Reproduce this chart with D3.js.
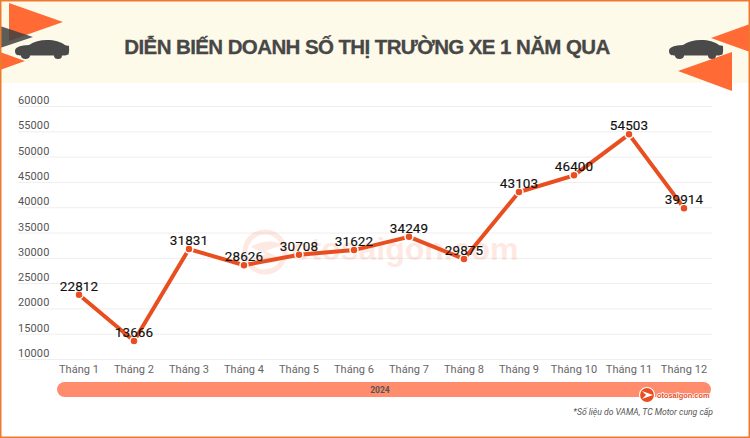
<!DOCTYPE html>
<html>
<head>
<meta charset="utf-8">
<script src="https://cdn.jsdelivr.net/npm/d3@7"></script>
<style>
html, body { margin: 0; padding: 0; background: #fff; }
svg { display: block; }
</style>
</head>
<body>
<div id="chart"></div>
<script>
const width = 750;
const height = 438;

const months = ["Tháng 1", "Tháng 2", "Tháng 3", "Tháng 4", "Tháng 5", "Tháng 6",
  "Tháng 7", "Tháng 8", "Tháng 9", "Tháng 10", "Tháng 11", "Tháng 12"];
const sales = [22812, 13666, 31831, 28626, 30708, 31622, 34249, 29875, 43103, 46400, 54503, 39914];
const yTicks = [10000, 15000, 20000, 25000, 30000, 35000, 40000, 45000, 50000, 55000, 60000];

const title = "DIỄN BIẾN DOANH SỐ THỊ TRƯỜNG XE 1 NĂM QUA";
const yearLabel = "2024";
const note = "*Số liệu do VAMA, TC Motor cung cấp";

const svg = d3.select("#chart").append("svg")
  .attr("width", width)
  .attr("height", height)
  .style("font-family", "Roboto, sans-serif");

// bandeau du titre
svg.append("rect").attr("x", 0).attr("y", 0).attr("width", width).attr("height", 83).attr("fill", "#fefae9");

const x = d3.scalePoint().domain(months).range([79, 684]);
const y = d3.scaleLinear().domain([10000, 60000]).range([359.5, 106.5]);

// triangles décoratifs
const tri = (pts, fill, op) => svg.append("polygon").attr("points", pts).attr("fill", fill).attr("opacity", op || 1);
tri("9,3 63,22 9,41", "#ff6a35");
tri("0,26 33,37 0,48", "#3f3f3f", 0.85);
tri("0,52 25,61 0,70", "#ff6a35");
tri("750,24 711,38 750,52", "#ff6a35");
tri("732,52 678,71 732,91", "#ff6a35");

// voiture
function car(tx, ty) {
  svg.append("path")
    .attr("transform", `translate(${tx},${ty})`)
    .attr("fill", "#4a4a4a")
    .attr("d", "M0,11 C0,8 3,6.5 8,5.5 L14,5 C19,1.5 25,0 32,0 C40,0 45,1.5 50,5 C48,5 53,5.5 54,6 C54,8 54.5,11 53.5,14.5 C51,15.5 49,15.5 47,15.5 A4,3.5 0 0 1 39,15.5 L15,15.5 A4.5,3.5 0 0 1 6,15.5 C3,15.5 0,15 0,11 Z");
}
car(15, 40);
car(669, 40);

// titre
svg.append("text")
  .attr("x", 367).attr("y", 53.5)
  .attr("text-anchor", "middle")
  .attr("font-family", "Liberation Sans, Arial, sans-serif")
  .attr("font-size", 20.5)
  .attr("font-weight", 700)
  .attr("letter-spacing", -0.6)
  .attr("fill", "#474747")
  .attr("stroke", "#474747").attr("stroke-width", 0.3)
  .text(title);

// grille + axe y
svg.append("g").selectAll("line").data(yTicks).join("line")
  .attr("x1", 18).attr("x2", 712)
  .attr("y1", d => y(d)).attr("y2", d => y(d))
  .attr("stroke", "#eeeeee").attr("stroke-width", 1);

svg.append("g").selectAll("text").data(yTicks).join("text")
  .attr("x", 18).attr("y", d => y(d) - 2.5)
  .attr("font-size", 11).attr("letter-spacing", 0.1).attr("fill", "#555")
  .text(d => d);

// filigrane
const wm = svg.append("g").attr("opacity", 0.13);
wm.append("circle").attr("cx", 265).attr("cy", 252).attr("r", 20).attr("fill", "none").attr("stroke", "#f0592a").attr("stroke-width", 5);
wm.append("path").attr("d", "M251,247 C262,240 275,240 283,245 L265,251 L282,259 C273,265 260,264 251,259 L266,254 Z").attr("fill", "#f0592a");
wm.append("text").attr("x", 291).attr("y", 260).attr("font-size", 32).attr("font-weight", 700)
  .attr("font-family", "Liberation Sans, Arial, sans-serif").attr("fill", "#f0592a").text("otosaigon.com");

// axe x
svg.append("g").selectAll("text").data(months).join("text")
  .attr("x", d => x(d)).attr("y", 373)
  .attr("text-anchor", "middle")
  .attr("font-size", 11).attr("letter-spacing", 0.05).attr("fill", "#666")
  .text(d => d);

// barre année
svg.append("rect").attr("x", 57).attr("y", 382).attr("width", 654).attr("height", 15).attr("rx", 7.5).attr("fill", "#ff8c6c");
svg.append("text").attr("x", 380).attr("y", 392.5).attr("text-anchor", "middle")
  .attr("font-size", 8.5).attr("font-weight", 700).attr("fill", "#555").text(yearLabel);

// courbe
const line = d3.line().x((d, i) => x(months[i])).y(d => y(d));
svg.append("path").datum(sales)
  .attr("d", line)
  .attr("fill", "none").attr("stroke", "#e84e1f").attr("stroke-width", 4);

svg.append("g").selectAll("circle").data(sales).join("circle")
  .attr("cx", (d, i) => x(months[i])).attr("cy", d => y(d))
  .attr("r", 4)
  .attr("fill", "#e84e1f").attr("stroke", "#fff").attr("stroke-width", 1.5);

svg.append("g").selectAll("text").data(sales).join("text")
  .attr("x", (d, i) => x(months[i])).attr("y", d => y(d) - 4)
  .attr("text-anchor", "middle")
  .attr("font-size", 13.5).attr("letter-spacing", 0.1).attr("fill", "#111")
  .attr("stroke", "#111").attr("stroke-width", 0.15)
  .text(d => d);

// logo
const logo = svg.append("g");
logo.append("circle").attr("cx", 647).attr("cy", 395).attr("r", 7.5).attr("fill", "#e84e1f").attr("stroke", "#fff").attr("stroke-width", 1.2);
logo.append("path").attr("d", "M642,391 L653,395 L642,399 L646,395 Z").attr("fill", "#fff");
logo.append("text").attr("x", 657).attr("y", 398).attr("font-size", 7.4).attr("font-weight", 700)
  .attr("font-family", "Liberation Sans, Arial, sans-serif")
  .attr("fill", "#e84e1f").attr("stroke", "#fff").attr("stroke-width", 1.5).attr("paint-order", "stroke")
  .text("otosaigon.com");

// note
svg.append("text").attr("x", 713).attr("y", 415).attr("text-anchor", "end")
  .attr("font-size", 8.6).attr("font-style", "italic").attr("fill", "#555").text(note);

// cadre
svg.append("rect").attr("x", 0.75).attr("y", 0.75).attr("width", width - 1.5).attr("height", height - 1.5)
  .attr("fill", "none").attr("stroke", "#ee7a30").attr("stroke-width", 1.5);
</script>
</body>
</html>
